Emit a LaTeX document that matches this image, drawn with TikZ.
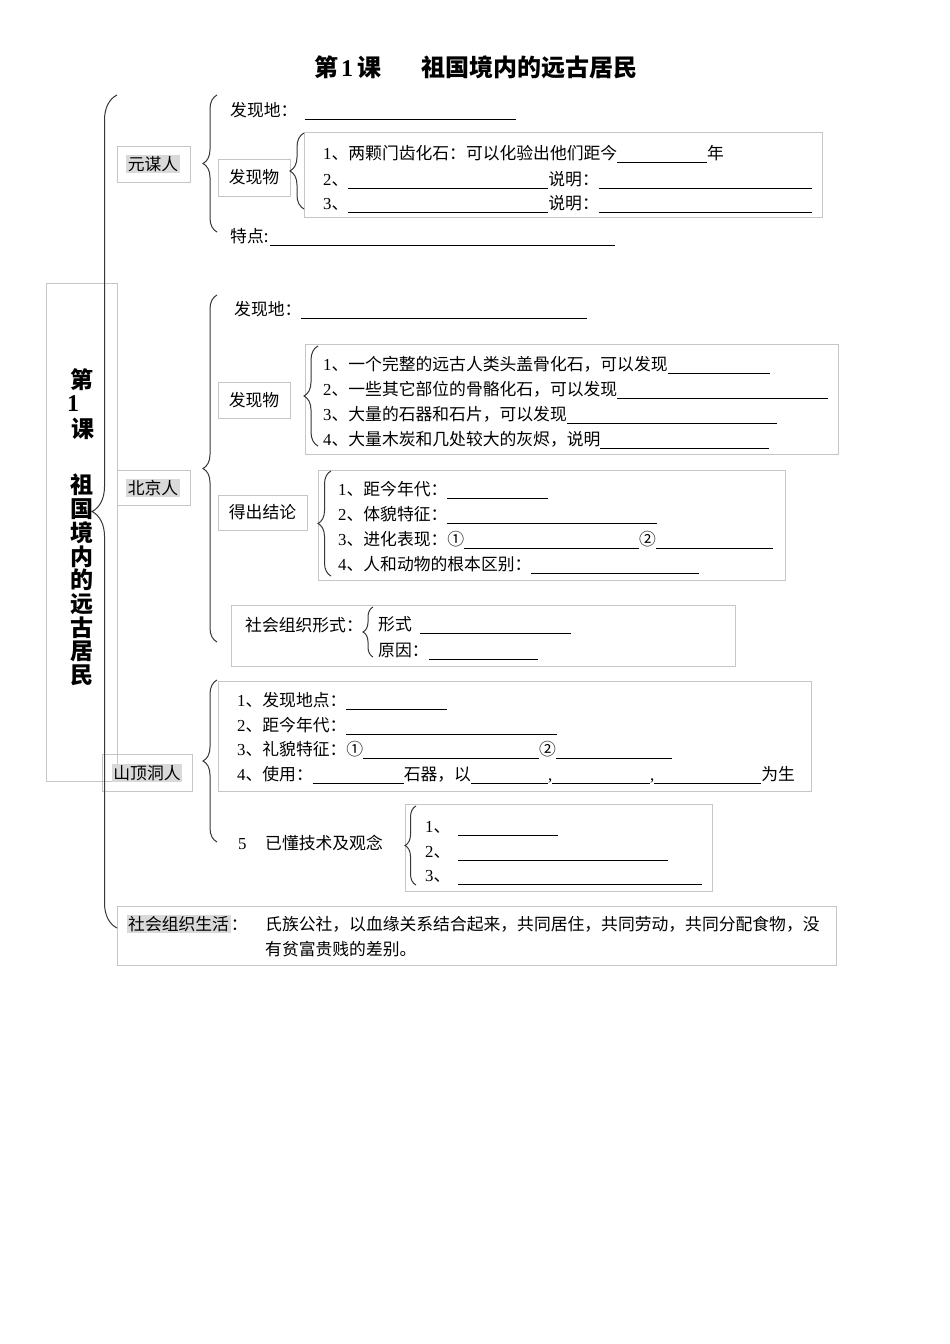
\documentclass[tikz,border=0pt]{standalone}
\usepackage{fontspec}
\setmainfont{Noto Sans CJK SC}
\newfontfamily\lat{Liberation Serif}
\usetikzlibrary{decorations.pathreplacing}
\definecolor{framecol}{RGB}{198,198,198}
\definecolor{bracecol}{RGB}{55,55,55}
\definecolor{hlcol}{RGB}{217,217,217}
\newcommand{\bl}[1]{\rule[-3pt]{#1pt}{0.6pt}}
\newcommand{\dg}[1]{{\lat #1}}
\newcommand{\fs}{\fontsize{16.8}{25}\selectfont}
\begin{document}
\begin{tikzpicture}[x=1pt,y=-1pt,
  frame/.style={draw=framecol, line width=0.8pt, anchor=north west, inner sep=0pt},
  tframe/.style={draw=framecol, line width=0.8pt, inner sep=0pt, font=\fs},
  brc/.style={draw=bracecol, line width=1pt, decorate, decoration={brace, amplitude=#1pt}},
  txt/.style={anchor=base west, inner sep=0pt, font=\fs},
  hl/.style={fill=hlcol, inner sep=1.5pt, font=\fs},
  vt/.style={inner sep=0pt, font=\fontsize{23}{23}\selectfont\bfseries},
]
\fill[white] (0,0) rectangle (950,1344);
\useasboundingbox (0,0) rectangle (950,1344);

% title
\node[anchor=base west, inner sep=0pt, font=\fontsize{24}{24}\selectfont\bfseries] (title) at (314,76)
  {第\hspace{3pt}{\lat\bfseries 1}\hspace{4pt}课\hspace{40pt}祖国境内的远古居民};

% frames
\node[frame, minimum width=71pt, minimum height=498pt] (leftbox) at (46,283) {};
\node[frame, minimum width=73pt, minimum height=36pt] (ymsf) at (117,146) {};
\node[frame, minimum width=73pt, minimum height=35pt] (bjrf) at (117,470) {};
\node[frame, minimum width=90pt, minimum height=37pt] (sddf) at (102,754) {};
\node[frame, minimum width=518pt, minimum height=85pt] (ainner) at (304,132) {};
\node[frame, minimum width=533pt, minimum height=110pt] (binner) at (305,344) {};
\node[frame, minimum width=467pt, minimum height=110pt] (cinner) at (318,470) {};
\node[frame, minimum width=504pt, minimum height=61pt] (dbox) at (231,605) {};
\node[frame, minimum width=593pt, minimum height=110pt] (ebox) at (218,681) {};
\node[frame, minimum width=307pt, minimum height=87pt] (fbox) at (405,804) {};
\node[frame, minimum width=719pt, minimum height=59pt] (gbox) at (117,906) {};

\node[tframe, minimum width=72pt, minimum height=37pt] (fxw1) at (254,177.5) {发现物};
\node[tframe, minimum width=72pt, minimum height=36pt] (fxw2) at (254,400) {发现物};
\node[tframe, minimum width=89pt, minimum height=35pt] (jl) at (262.5,512.5) {得出结论};

% braces
\coordinate (B0t) at (117,95);  \coordinate (B0b) at (117,928);
\coordinate (B1t) at (217,95);  \coordinate (B1b) at (217,232);
\coordinate (B2t) at (304,133); \coordinate (B2b) at (304,209);
\coordinate (B3t) at (217,295); \coordinate (B3b) at (217,642);
\coordinate (B4t) at (318,346); \coordinate (B4b) at (318,446);
\coordinate (B5t) at (331,471); \coordinate (B5b) at (331,576);
\coordinate (B6t) at (373,607); \coordinate (B6b) at (373,657);
\coordinate (B7t) at (217,680); \coordinate (B7b) at (217,842);
\coordinate (B8t) at (416,806); \coordinate (B8b) at (416,885);
\draw[brc=25] (B0b) -- (B0t);
\draw[brc=14] (B1b) -- (B1t);
\draw[brc=14] (B2b) -- (B2t);
\draw[brc=14] (B3b) -- (B3t);
\draw[brc=14] (B4b) -- (B4t);
\draw[brc=13] (B5b) -- (B5t);
\draw[brc=10] (B6b) -- (B6t);
\draw[brc=14] (B7b) -- (B7t);
\draw[brc=11] (B8b) -- (B8t);

% vertical title
\node[inner sep=0pt, font=\fontsize{24}{24}\selectfont\lat\bfseries] (vn) at (73,404) {1};
\node[vt] (v1) at (82,380) {第};
\node[vt] (v2) at (83,429) {课};
\foreach \c [count=\i] in {祖,国,境,内,的,远,古,居,民}
  \node[vt] (w\i) at (82,461.2+\i*23.8) {\c};

% labels
\node[hl] (yms) at (153,164) {元谋人};
\node[hl] (bjr) at (153,488) {北京人};
\node[hl] (sdd) at (147,773) {山顶洞人};

% 元谋人
\node[txt] (a1) at (230,116.4) {发现地：\hspace{8pt}\bl{211}};
\node[txt] (a2) at (323,159.4) {\dg{1}、两颗门齿化石：可以化验出他们距今\bl{90}年};
\node[txt] (a3) at (323,185.4) {\dg{2}、\bl{200}说明：\bl{213}};
\node[txt] (a4) at (323,209.4) {\dg{3}、\bl{200}说明：\bl{213}};
\node[txt] (a5) at (230,242.4) {特点:\hspace{2pt}\bl{345}};

% 北京人
\node[txt] (b1) at (234,315.4) {发现地：\bl{286}};
\node[txt] (b2) at (323,370.4) {\dg{1}、一个完整的远古人类头盖骨化石，可以发现\bl{102}};
\node[txt] (b3) at (323,395.4) {\dg{2}、一些其它部位的骨骼化石，可以发现\bl{211}};
\node[txt] (b4) at (323,420.4) {\dg{3}、大量的石器和石片，可以发现\bl{210}};
\node[txt] (b5) at (323,445.4) {\dg{4}、大量木炭和几处较大的灰烬，说明\bl{169}};
\node[txt] (c1) at (338,495.4) {\dg{1}、距今年代：\bl{101}};
\node[txt] (c2) at (338,520.4) {\dg{2}、体貌特征：\bl{210}};
\node[txt] (c3) at (338,545.4) {\dg{3}、进化表现：①\bl{175}②\bl{117}};
\node[txt] (c4) at (338,570.4) {\dg{4}、人和动物的根本区别：\bl{168}};
\node[txt] (d1) at (245,631.4) {社会组织形式：};
\node[txt] (d2) at (378,630.4) {形式\hspace{8pt}\bl{151}};
\node[txt] (d3) at (378,656.4) {原因：\bl{109}};

% 山顶洞人
\node[txt] (e1) at (237,706.4) {\dg{1}、发现地点：\bl{101}};
\node[txt] (e2) at (237,731.4) {\dg{2}、距今年代：\bl{211}};
\node[txt] (e3) at (237,755.4) {\dg{3}、礼貌特征：①\bl{176}②\bl{116}};
\node[txt] (e4) at (237,780.4) {\dg{4}、使用：\bl{91}石器，以\bl{77}\dg{,}\bl{98}\dg{,}\bl{107}为生};
\node[txt] (e5) at (238,849.4) {\dg{5}\hspace{18.6pt}已懂技术及观念};
\node[txt] (f1) at (425,832.4) {\dg{1}、\hspace{8pt}\bl{100}};
\node[txt] (f2) at (425,857.4) {\dg{2}、\hspace{8pt}\bl{210}};
\node[txt] (f3) at (425,881.4) {\dg{3}、\hspace{8pt}\bl{244}};

% bottom
\node[hl, anchor=base west] (g0) at (126.5,930.4) {社会组织生活};
\node[txt] (g1) at (g0.base east) {：};
\node[txt] (g2) at (265,930.4) {氏族公社，以血缘关系结合起来，共同居住，共同劳动，共同分配食物，没};
\node[txt] (g3) at (265,955.4) {有贫富贵贱的差别。};
\end{tikzpicture}
\end{document}
